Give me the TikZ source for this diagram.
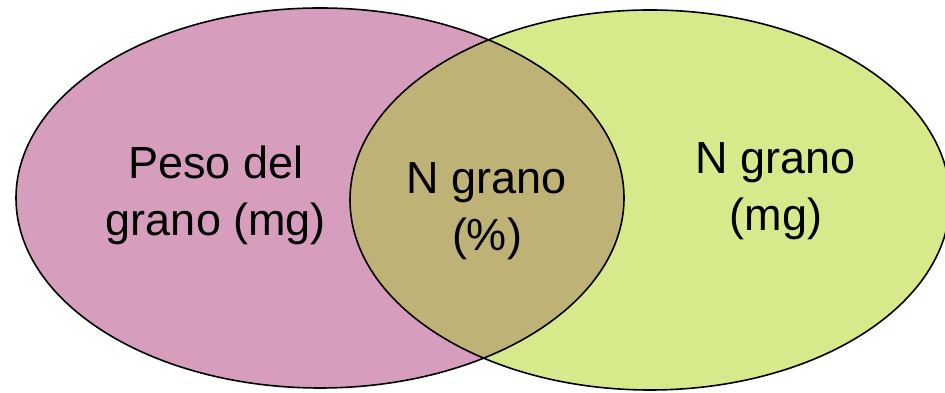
\documentclass[tikz,border=0pt]{standalone}
\usepackage{fontspec}
\setmainfont{Liberation Sans}
\usepackage{xcolor}
\usepackage{tikz}
\definecolor{pesopink}{RGB}{214,158,188}
\definecolor{granogreen}{RGB}{214,234,140}
\definecolor{bothbrown}{RGB}{190,178,118}

\begin{document}
\begin{tikzpicture}[
  x=1pt, y=1pt,
  every node/.style={align=center, font=\fontsize{45}{57}\selectfont},
  rim/.style={draw, line width=1.6pt},
  leftset/.style={x radius=304, y radius=190},
  rightset/.style={x radius=300, y radius=190}
]
\useasboundingbox (0,0) rectangle (945,393);
\coordinate (lc) at (320,195);
\coordinate (rc) at (650,193);

\fill[pesopink] (lc) ellipse [leftset];
\fill[granogreen] (rc) ellipse [rightset];
\begin{scope}
  \clip (lc) ellipse [leftset];
  \fill[bothbrown] (rc) ellipse [rightset];
\end{scope}
\draw[rim] (lc) ellipse [leftset];
\draw[rim] (rc) ellipse [rightset];

\node (peso) at (216,198) {Peso del\\grano (mg)};
\node (pct) at (487,182) {N grano\\(\%)};
\node (mg) at (776,202) {N grano\\(mg)};
\end{tikzpicture}
\end{document}
